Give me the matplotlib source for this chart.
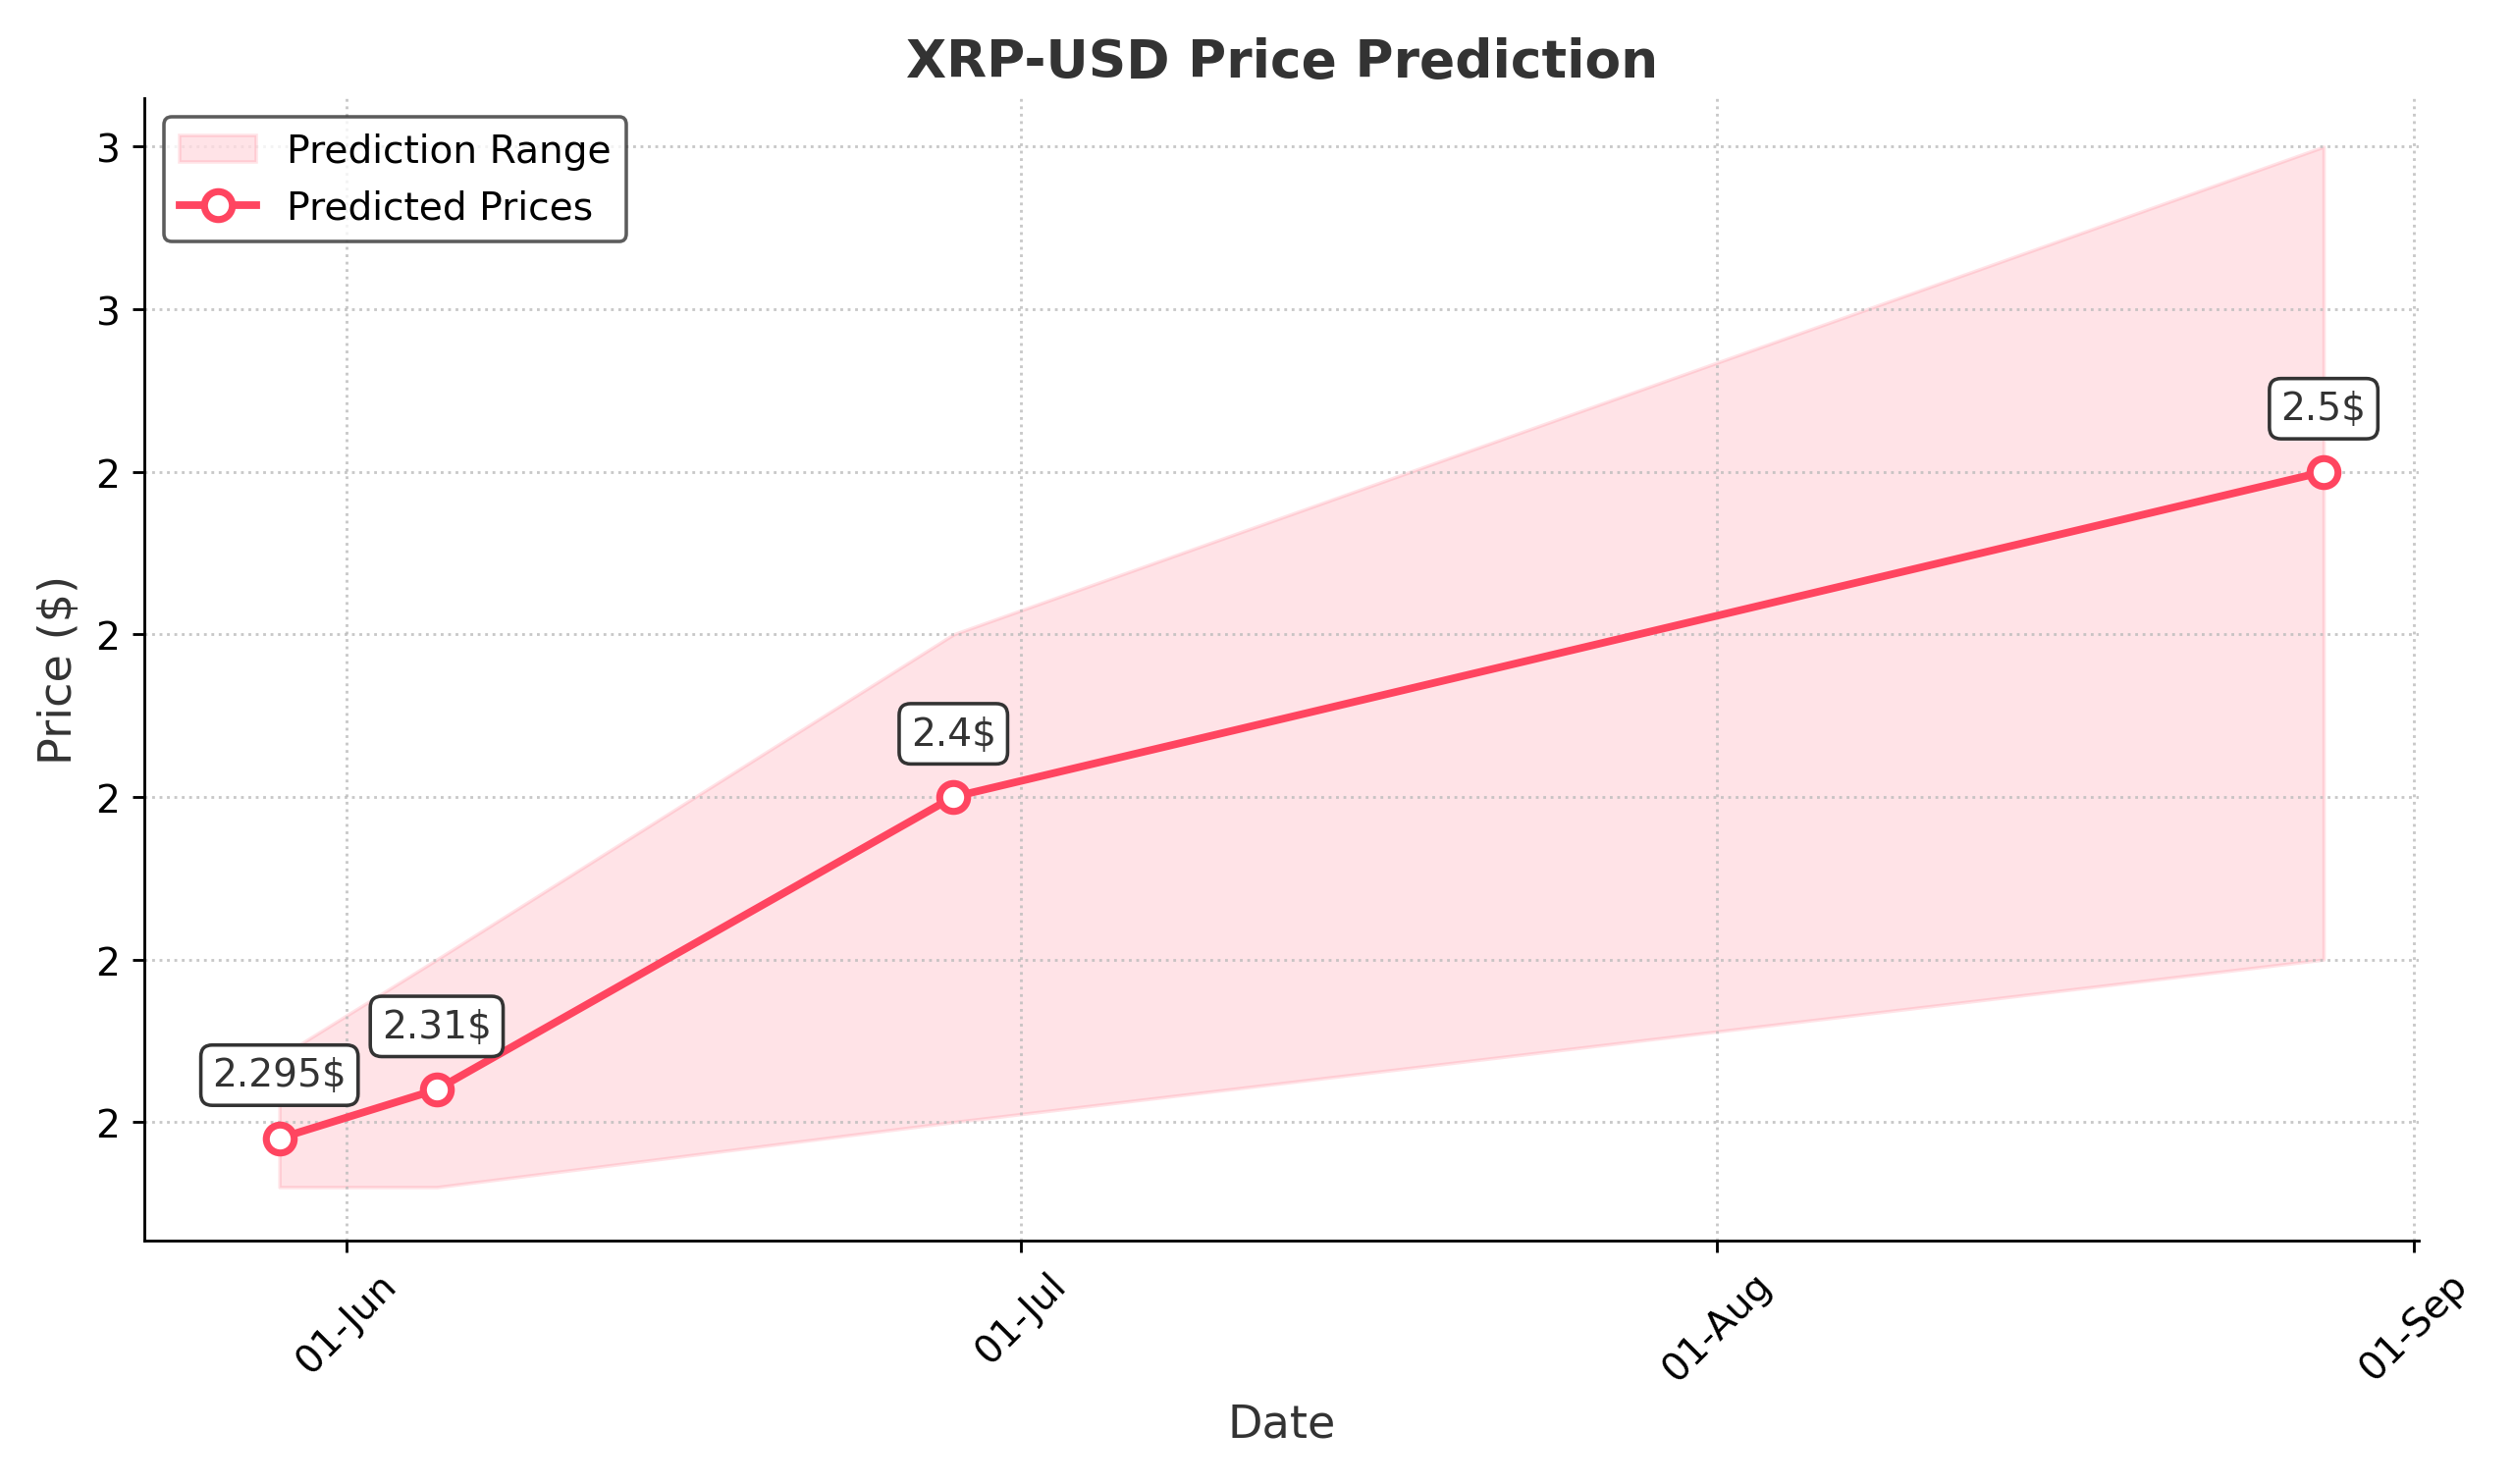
import matplotlib
matplotlib.use('Agg')
import matplotlib.pyplot as plt
import matplotlib.dates as mdates
from matplotlib.ticker import FormatStrFormatter
import pandas as pd

dates = pd.to_datetime(['2025-05-29', '2025-06-05', '2025-06-28', '2025-08-28'])
prices = [2.295, 2.31, 2.4, 2.5]
lower = [2.28, 2.28, 2.30, 2.35]
upper = [2.32, 2.35, 2.45, 2.60]
labels = ['2.295$', '2.31$', '2.4$', '2.5$']

col = '#FF4560'
fig, ax = plt.subplots(figsize=(10, 5.91), dpi=256)
ax.fill_between(dates, lower, upper, color=col, alpha=0.15, label='Prediction Range')
ax.plot(dates, prices, color=col, lw=2.2, marker='o', ms=8, mfc='white',
        mec=col, mew=2, label='Predicted Prices')
for d, p, t in zip(dates, prices, labels):
    ax.annotate(t, (d, p), xytext=(0, 15), textcoords='offset points', ha='center',
                fontsize=11, color='#333333',
                bbox=dict(boxstyle='round,pad=0.3', fc='white', ec='#333333'))
ax.set_title('XRP-USD Price Prediction', fontsize=15, fontweight='bold', color='#333333')
ax.set_xlabel('Date', fontsize=13, color='#333333')
ax.set_ylabel('Price ($)', fontsize=13, color='#333333')
ax.xaxis.set_major_locator(mdates.MonthLocator())
ax.xaxis.set_major_formatter(mdates.DateFormatter('%d-%b'))
ax.yaxis.set_major_formatter(FormatStrFormatter('%.0f'))
ax.set_yticks([2.30, 2.35, 2.40, 2.45, 2.50, 2.55, 2.60])
ax.set_ylim(2.2635, 2.615)
ax.set_xlim(pd.Timestamp('2025-05-23'), pd.Timestamp('2025-09-01 6:00'))
plt.setp(ax.get_xticklabels(), rotation=45, fontsize=11)
plt.setp(ax.get_yticklabels(), fontsize=11)
ax.grid(True, ls=':', color='#bbbbbb', alpha=0.8)
for s in ['top', 'right']:
    ax.spines[s].set_visible(False)
ax.legend(loc='upper left', fontsize=11, edgecolor='#333333')
plt.tight_layout()
plt.savefig('out.png', dpi=256)
